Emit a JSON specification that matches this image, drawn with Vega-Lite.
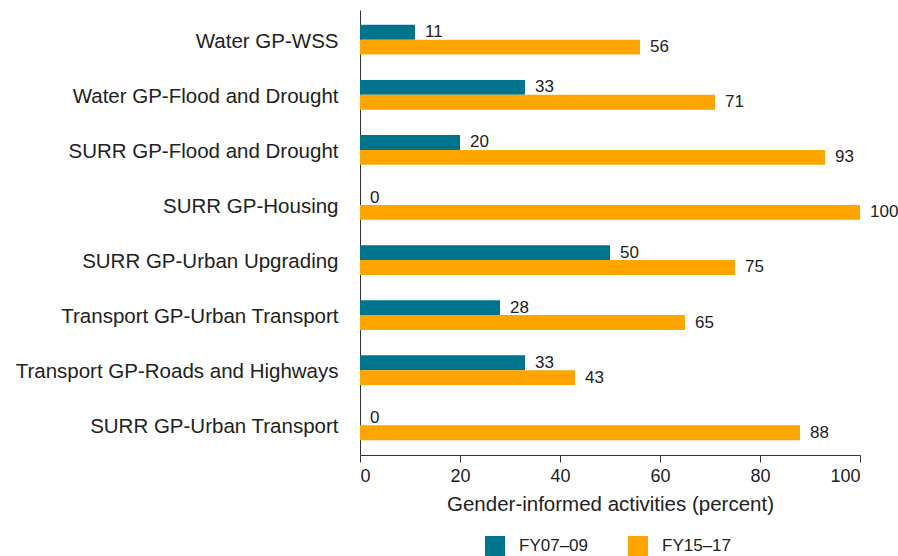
{
  "$schema": "https://vega.github.io/schema/vega-lite/v6.json",
  "autosize": {"type": "none"},
  "padding": {"left": 360, "top": 10, "right": 38, "bottom": 101},
  "width": 500,
  "height": 445,
  "data": {"values": [
    {"category": "Water GP-WSS", "series": "FY07–09", "value": 11},
    {"category": "Water GP-WSS", "series": "FY15–17", "value": 56},
    {"category": "Water GP-Flood and Drought", "series": "FY07–09", "value": 33},
    {"category": "Water GP-Flood and Drought", "series": "FY15–17", "value": 71},
    {"category": "SURR GP-Flood and Drought", "series": "FY07–09", "value": 20},
    {"category": "SURR GP-Flood and Drought", "series": "FY15–17", "value": 93},
    {"category": "SURR GP-Housing", "series": "FY07–09", "value": 0},
    {"category": "SURR GP-Housing", "series": "FY15–17", "value": 100},
    {"category": "SURR GP-Urban Upgrading", "series": "FY07–09", "value": 50},
    {"category": "SURR GP-Urban Upgrading", "series": "FY15–17", "value": 75},
    {"category": "Transport GP-Urban Transport", "series": "FY07–09", "value": 28},
    {"category": "Transport GP-Urban Transport", "series": "FY15–17", "value": 65},
    {"category": "Transport GP-Roads and Highways", "series": "FY07–09", "value": 33},
    {"category": "Transport GP-Roads and Highways", "series": "FY15–17", "value": 43},
    {"category": "SURR GP-Urban Transport", "series": "FY07–09", "value": 0},
    {"category": "SURR GP-Urban Transport", "series": "FY15–17", "value": 88}
  ]},
  "encoding": {
    "y": {"field": "category", "type": "nominal", "sort": null,
          "scale": {"paddingInner": 0.46, "paddingOuter": 0.27},
          "axis": {"title": null, "ticks": false, "labelPadding": 22, "labelFontSize": 20.5, "labelLimit": 0, "labelOffset": 2, "labelColor": "#222", "domainColor": "#333", "labelFont": "Liberation Sans"}},
    "yOffset": {"field": "series", "type": "nominal", "scale": {"paddingInner": 0, "paddingOuter": 0}},
    "x": {"field": "value", "type": "quantitative",
          "scale": {"domain": [0, 100], "nice": false},
          "axis": {"title": "Gender-informed activities (percent)", "values": [0, 20, 40, 60, 80, 100], "grid": false,
                   "tickSize": 7, "tickColor": "#333", "domainColor": "#333", "labelFontSize": 18, "labelColor": "#222",
                   "titleFontSize": 20.5, "titleFontWeight": "normal", "titleColor": "#222", "labelPadding": 5, "titlePadding": 9,
                   "labelFont": "Liberation Sans", "titleFont": "Liberation Sans"}}
  },
  "layer": [
    {"mark": {"type": "bar"},
     "encoding": {
       "color": {"field": "series", "type": "nominal",
                 "scale": {"domain": ["FY07–09", "FY15–17"], "range": ["#00748d", "#fea500"]},
                 "legend": {"title": null, "orient": "none", "legendX": 125, "legendY": 526, "direction": "horizontal",
                            "symbolType": "square", "symbolSize": 400, "symbolStrokeWidth": 0, "labelFontSize": 17,
                            "labelColor": "#222", "labelFont": "Liberation Sans", "columnPadding": 40, "labelOffset": 14}}
     }},
    {"mark": {"type": "text", "align": "left", "baseline": "middle", "dx": 10, "fontSize": 17, "color": "#222", "font": "Liberation Sans"},
     "encoding": {"text": {"field": "value", "type": "quantitative"}}}
  ],
  "config": {"view": {"stroke": null}}
}
